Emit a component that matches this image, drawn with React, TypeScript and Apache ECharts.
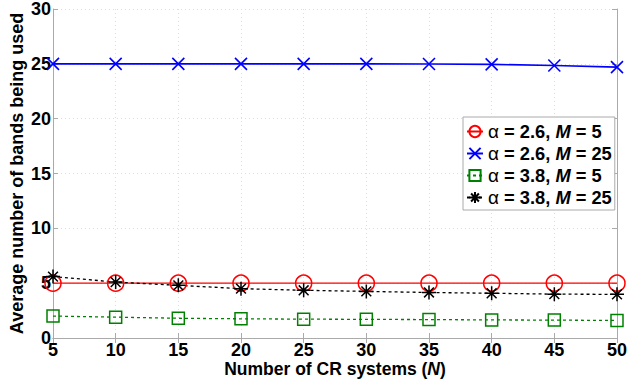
import React, { useEffect, useRef } from "react";
import * as echarts from "echarts";

const nValues = [5, 10, 15, 20, 25, 30, 35, 40, 45, 50];
const seriesNames = ["α = 2.6, M = 5", "α = 2.6, M = 25", "α = 3.8, M = 5", "α = 3.8, M = 25"];
const redVals = [5, 5, 5, 5, 5, 5, 5, 5, 5, 5];
const blueVals = [25, 25, 25, 25, 25, 25, 24.98, 24.95, 24.85, 24.7];
const greenVals = [2.0, 1.9, 1.8, 1.75, 1.72, 1.7, 1.68, 1.65, 1.63, 1.6];
const blackVals = [5.6, 5.1, 4.8, 4.5, 4.35, 4.25, 4.15, 4.08, 4.0, 3.98];
const yTitle = "Average number of bands being used";

const FONT = "Liberation Sans, Arial, Helvetica, sans-serif";
const X_SYMBOL = "path://M0,0L10,10M10,0L0,10";
const STAR_SYMBOL = "path://M5,0L5,10M0,5L10,5M1.5,1.5L8.5,8.5M8.5,1.5L1.5,8.5";

function pair(vals: number[]) {
  return nValues.map((n, i) => [n, vals[i]]);
}

export default function App() {
  const ref = useRef<HTMLDivElement>(null);
  useEffect(() => {
    if (!ref.current) return;
    const chart = echarts.init(ref.current, undefined, { renderer: "svg" });
    const axisLine = { show: true, lineStyle: { color: "#aaa", width: 1 } };
    const labelStyle = { color: "#000", fontWeight: "bold" as const, fontSize: 18, fontFamily: FONT };
    chart.setOption({
      animation: false,
      backgroundColor: "#fff",
      grid: { left: 48, right: 11, top: 9, bottom: 43, containLabel: false },
      xAxis: [
        {
          type: "value",
          min: 5,
          max: 50,
          interval: 5,
          axisLine,
          axisTick: { show: true, inside: true, length: 5, lineStyle: { color: "#aaa" } },
          axisLabel: { ...labelStyle, margin: 3 },
          splitLine: { show: true, lineStyle: { color: "#ddd", type: [1, 3] } },
          name: "{a|Number of CR systems (}{b|N}{a|)}",
          nameLocation: "middle",
          nameGap: 22,
          nameMoveOverlap: false,
          nameTextStyle: {
            rich: {
              a: { fontSize: 17.5, fontWeight: "bold", fontFamily: FONT, color: "#000" },
              b: { fontSize: 17.5, fontWeight: "bold", fontStyle: "italic", fontFamily: FONT, color: "#000" },
            },
          },
        },
        {
          type: "value",
          position: "top",
          min: 5,
          max: 50,
          interval: 5,
          axisLine,
          axisTick: { show: true, inside: true, length: 5, lineStyle: { color: "#aaa" } },
          axisLabel: { show: false },
          splitLine: { show: false },
        },
      ],
      yAxis: [
        {
          type: "value",
          min: 0,
          max: 30,
          interval: 5,
          axisLine,
          axisTick: { show: true, inside: true, length: 5, lineStyle: { color: "#aaa" } },
          axisLabel: { ...labelStyle, margin: 2 },
          splitLine: { show: true, lineStyle: { color: "#ddd", type: [1, 3] } },
          name: yTitle,
          nameLocation: "middle",
          nameGap: 27,
          nameMoveOverlap: false,
          nameTextStyle: { fontSize: 18, fontWeight: "bold", fontFamily: FONT, color: "#000" },
        },
        {
          type: "value",
          position: "right",
          min: 0,
          max: 30,
          interval: 5,
          axisLine,
          axisTick: { show: true, inside: true, length: 5, lineStyle: { color: "#aaa" } },
          axisLabel: { show: false },
          splitLine: { show: false },
        },
      ],
      legend: {
        orient: "vertical",
        left: 463,
        top: 117,
        backgroundColor: "#fff",
        borderColor: "#aaa",
        borderWidth: 1,
        borderRadius: 0,
        padding: [5, 3, 3, 3],
        itemGap: 3,
        itemWidth: 16,
        itemHeight: 14,
        itemTextGap: 2,
        data: seriesNames,
        formatter: (name: string) => {
          const m = name.match(/α = ([\d.]+), M = (\d+)/);
          if (!m) return name;
          return `{g|α}{a| = ${m[1]}, }{m|M}{a| = ${m[2]}}`;
        },
        textStyle: {
          rich: {
            g: { fontSize: 19, fontFamily: FONT, color: "#000", lineHeight: 20 },
            a: { fontSize: 18.3, fontWeight: "bold", fontFamily: FONT, color: "#000", lineHeight: 20 },
            m: { fontSize: 18.3, fontWeight: "bold", fontStyle: "italic", fontFamily: FONT, color: "#000", lineHeight: 20 },
          },
        },
      },
      series: [
        {
          name: seriesNames[0],
          type: "line",
          data: pair(redVals),
          symbol: "circle",
          symbolSize: 16,
          lineStyle: { color: "#ff0000", width: 1.3 },
          itemStyle: { color: "transparent", borderColor: "#ff0000", borderWidth: 1.5 },
        },
        {
          name: seriesNames[1],
          type: "line",
          data: pair(blueVals),
          symbol: X_SYMBOL,
          symbolSize: 12,
          lineStyle: { color: "#0000ff", width: 1.6 },
          itemStyle: { color: "transparent", borderColor: "#0000ff", borderWidth: 1.6 },
        },
        {
          name: seriesNames[2],
          type: "line",
          data: pair(greenVals),
          symbol: "rect",
          symbolSize: 12,
          lineStyle: { color: "#008000", width: 1.3, type: [3, 3] },
          itemStyle: { color: "transparent", borderColor: "#008000", borderWidth: 1.5 },
        },
        {
          name: seriesNames[3],
          type: "line",
          data: pair(blackVals),
          symbol: STAR_SYMBOL,
          symbolSize: 14,
          lineStyle: { color: "#000", width: 1.3, type: [3, 3] },
          itemStyle: { color: "transparent", borderColor: "#000", borderWidth: 1.5 },
        },
      ],
    });
    return () => chart.dispose();
  }, []);
  return <div ref={ref} style={{ width: 630, height: 383, position: "absolute", left: 0, top: 0 }} />;
}
